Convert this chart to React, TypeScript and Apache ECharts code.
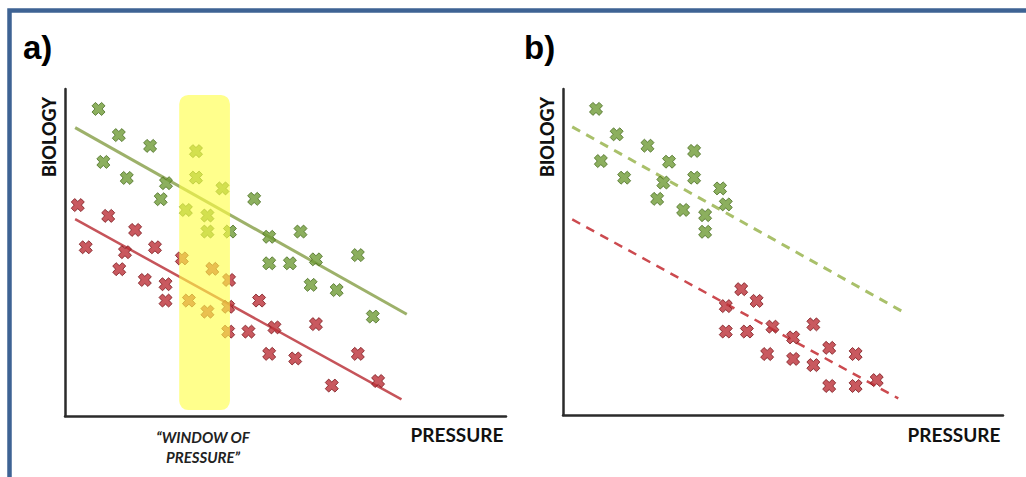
import React, { useEffect, useRef } from "react";
import * as echarts from "echarts";

// Panel a) data (x: pressure 0-100, y: biology 0-100)
const aGreen: number[][] = [
  [7.6, 93.9], [12.2, 85.9], [19.3, 82.6], [8.7, 77.7], [14.0, 72.8], [29.7, 81.0],
  [29.7, 72.9], [22.9, 71.2], [21.7, 66.3], [35.7, 69.6], [42.9, 66.4], [27.4, 63.0],
  [32.3, 61.3], [32.3, 56.4], [37.4, 56.4], [46.3, 54.8], [53.4, 56.4], [66.4, 49.2],
  [46.3, 46.7], [51.0, 46.7], [56.9, 47.9], [55.7, 40.1], [61.6, 38.5], [69.8, 30.4],
];
const aRed: number[][] = [
  [2.9, 64.5], [9.8, 61.2], [15.9, 56.9], [4.7, 51.6], [13.6, 50.1], [20.4, 51.6],
  [26.5, 48.2], [12.3, 44.9], [33.4, 45.0], [18.1, 41.6], [22.8, 40.3], [22.8, 35.3],
  [28.1, 35.3], [32.3, 31.9], [37.2, 41.6], [37.0, 33.4], [44.0, 35.3], [37.0, 25.8],
  [41.6, 25.8], [47.5, 27.1], [56.9, 28.1], [46.3, 19.0], [52.2, 17.6], [66.4, 19.0],
  [60.5, 9.3], [71.0, 10.7],
];
const aGreenLine: number[][] = [[2.3, 88.2], [77.5, 31.1]];
const aRedLine: number[][] = [[2.3, 60.2], [76.3, 5.1]];
const windowBox: number[][] = [[25.9, 98.2, 37.4, 1.8]];

// Panel b) data
const bGreen: number[][] = [
  [7.5, 93.9], [12.2, 86.1], [8.6, 77.9], [19.2, 82.6], [13.9, 72.8], [24.1, 77.7],
  [29.8, 81.0], [22.8, 71.3], [29.8, 72.8], [21.4, 66.3], [35.7, 69.5], [27.3, 62.9],
  [32.3, 61.3], [37.0, 64.6], [32.3, 56.2],
];
const bRed: number[][] = [
  [40.5, 38.6], [37.0, 33.4], [44.0, 35.0], [37.0, 25.6], [41.8, 25.6], [47.6, 27.1],
  [52.3, 23.8], [56.9, 27.8], [46.4, 18.7], [52.3, 17.2], [56.9, 15.3], [60.5, 20.6],
  [66.5, 18.7], [60.5, 8.9], [66.5, 8.9], [71.3, 10.7],
];
const bGreenLine: number[][] = [[2.1, 88.4], [77.2, 31.7]];
const bRedLine: number[][] = [[2.1, 60.0], [76.2, 5.1]];

const panelLabels = ["a)", "b)"];
const yName = "BIOLOGY";
const xName = "PRESSURE";
const windowLabel = ["\u201CWINDOW OF", "PRESSURE\u201D"];

const CROSS =
  "path://M0,2.6 L2.6,0 L5,2.2 L7.4,0 L10,2.6 L7.8,5 L10,7.4 L7.4,10 L5,7.8 L2.6,10 L0,7.4 L2.2,5 Z";

export default function App() {
  const ref = useRef<HTMLDivElement>(null);
  useEffect(() => {
    if (!ref.current) return;
    const chart = echarts.init(ref.current, undefined, { renderer: "svg" });
    const axisLine = { show: true, lineStyle: { color: "#2b2b2b", width: 2.5 } };
    const ax = (gi: number) => ({
      type: "value" as const,
      gridIndex: gi,
      min: 0,
      max: 100,
      axisLine,
      axisTick: { show: false },
      axisLabel: { show: false },
      splitLine: { show: false },
    });
    const greenItem = { color: "#6f9b36", borderColor: "#4a6e22", borderWidth: 1 };
    const redItem = { color: "#bb3037", borderColor: "#7a161c", borderWidth: 1 };
    const scatter = (data: number[][], gi: number, item: any) => ({
      type: "scatter",
      xAxisIndex: gi,
      yAxisIndex: gi,
      data,
      symbol: CROSS,
      symbolSize: 13,
      itemStyle: item,
      z: 3,
    });
    const line = (data: number[][], gi: number, color: string, dashed: boolean, width: number) => ({
      type: "line",
      xAxisIndex: gi,
      yAxisIndex: gi,
      data,
      symbol: "none",
      lineStyle: { color, width, type: dashed ? [9, 7] : "solid" },
      z: 2,
    });
    const font = "Lato, 'Open Sans', sans-serif";
    chart.setOption({
      animation: false,
      grid: [
        { left: 65, top: 89, width: 441, height: 327 },
        { left: 563, top: 89, width: 440, height: 326 },
      ],
      xAxis: [ax(0), ax(1)],
      yAxis: [ax(0), ax(1)],
      series: [
        line(aGreenLine, 0, "#9db16a", false, 3),
        line(aRedLine, 0, "#c6545a", false, 2.5),
        scatter(aGreen, 0, greenItem),
        scatter(aRed, 0, redItem),
        {
          type: "custom",
          xAxisIndex: 0,
          yAxisIndex: 0,
          data: windowBox,
          z: 5,
          renderItem: (params: any, api: any) => {
            const p1 = api.coord([api.value(0), api.value(1)]);
            const p2 = api.coord([api.value(2), api.value(3)]);
            return {
              type: "rect",
              shape: { x: p1[0], y: p1[1], width: p2[0] - p1[0], height: p2[1] - p1[1], r: 9 },
              style: { fill: "rgba(255,255,70,0.62)" },
            };
          },
        },
        line(bGreenLine, 1, "#a9c06a", true, 3),
        line(bRedLine, 1, "#cc4a4f", true, 2.5),
        scatter(bGreen, 1, greenItem),
        scatter(bRed, 1, redItem),
      ],
      graphic: [
        {
          type: "polyline",
          shape: { points: [[9.5, 477], [9.5, 10.5], [1026, 10.5]] },
          style: { stroke: "#3e6394", lineWidth: 4.5, fill: "none" },
        },
        {
          type: "text", x: 23, y: 31,
          style: { text: panelLabels[0], font: "bold 33px 'Liberation Sans', Arial, sans-serif", fill: "#000" },
        },
        {
          type: "text", x: 524, y: 31,
          style: { text: panelLabels[1], font: "bold 33px 'Liberation Sans', Arial, sans-serif", fill: "#000" },
        },
        {
          type: "text", x: 49, y: 137, rotation: Math.PI / 2,
          style: { text: yName, font: `900 18px ${font}`, fill: "#111", align: "center", verticalAlign: "middle" },
        },
        {
          type: "text", x: 547, y: 137, rotation: Math.PI / 2,
          style: { text: yName, font: `900 18px ${font}`, fill: "#111", align: "center", verticalAlign: "middle" },
        },
        {
          type: "text", x: 457, y: 434,
          style: { text: xName, font: `bold 19px ${font}`, fill: "#111", align: "center", verticalAlign: "middle" },
        },
        {
          type: "text", x: 954, y: 434,
          style: { text: xName, font: `bold 19px ${font}`, fill: "#111", align: "center", verticalAlign: "middle" },
        },
        {
          type: "text", x: 203, y: 437,
          style: { text: windowLabel[0], font: `italic bold 15px ${font}`, fill: "#222", align: "center", verticalAlign: "middle" },
        },
        {
          type: "text", x: 203, y: 457,
          style: { text: windowLabel[1], font: `italic bold 15px ${font}`, fill: "#222", align: "center", verticalAlign: "middle" },
        },
      ],
    });
    return () => chart.dispose();
  }, []);
  return (
    <div
      ref={ref}
      style={{ position: "absolute", left: 0, top: 0, width: 1026, height: 477, background: "#fff" }}
    />
  );
}
